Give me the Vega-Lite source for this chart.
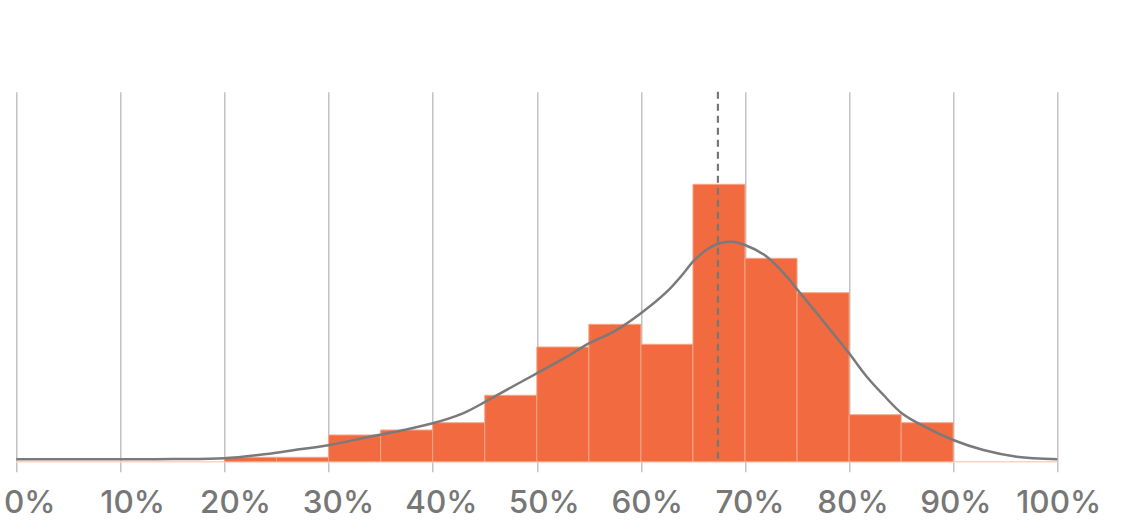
{
  "$schema": "https://vega.github.io/schema/vega-lite/v6.json",
  "autosize": {"type": "none"},
  "width": 1041,
  "height": 370,
  "padding": {"left": 16.3, "top": 91.7, "right": 84.7, "bottom": 65.3},
  "background": "white",
  "config": {"view": {"stroke": null}},
  "datasets": {
    "bins": [
      {"start": 20, "end": 25, "value": 4.4},
      {"start": 25, "end": 30, "value": 4.4},
      {"start": 30, "end": 35, "value": 26.7},
      {"start": 35, "end": 40, "value": 31.7},
      {"start": 40, "end": 45, "value": 39},
      {"start": 45, "end": 50, "value": 66.4},
      {"start": 50, "end": 55, "value": 114.7},
      {"start": 55, "end": 60, "value": 137.4},
      {"start": 60, "end": 65, "value": 117.4},
      {"start": 65, "end": 70, "value": 277.4},
      {"start": 70, "end": 75, "value": 203.4},
      {"start": 75, "end": 80, "value": 169},
      {"start": 80, "end": 85, "value": 47},
      {"start": 85, "end": 90, "value": 39}
    ],
    "curve": [
      {"x": 0, "y": 2.4},
      {"x": 10, "y": 2.4},
      {"x": 15, "y": 2.6},
      {"x": 20, "y": 3.4},
      {"x": 24.1, "y": 7.7},
      {"x": 27.2, "y": 12.4},
      {"x": 30, "y": 16.5},
      {"x": 33.7, "y": 24.5},
      {"x": 36.9, "y": 31},
      {"x": 40, "y": 38.4},
      {"x": 42.9, "y": 48.4},
      {"x": 44.9, "y": 59},
      {"x": 46.5, "y": 68.4},
      {"x": 50, "y": 88.4},
      {"x": 52.9, "y": 105},
      {"x": 55, "y": 118.4},
      {"x": 57.4, "y": 130},
      {"x": 60, "y": 148.4},
      {"x": 62.5, "y": 170},
      {"x": 64.1, "y": 188.4},
      {"x": 65, "y": 200},
      {"x": 66.3, "y": 212},
      {"x": 67.4, "y": 218},
      {"x": 68.7, "y": 220},
      {"x": 70, "y": 216.7},
      {"x": 72.1, "y": 205},
      {"x": 74.3, "y": 181.7},
      {"x": 75, "y": 172.5},
      {"x": 76.9, "y": 148.4},
      {"x": 80, "y": 108.4},
      {"x": 81.7, "y": 85},
      {"x": 83.3, "y": 66.7},
      {"x": 85, "y": 49},
      {"x": 86.8, "y": 37.5},
      {"x": 90, "y": 21.7},
      {"x": 92.9, "y": 11.7},
      {"x": 96.1, "y": 5},
      {"x": 100, "y": 2.4}
    ],
    "base": [{"start": 0, "end": 100}],
    "marker": [{"x": 67.4}]
  },
  "layer": [
    {
      "data": {"name": "base"},
      "mark": {"type": "rule", "color": "#fbd3c4", "strokeWidth": 1.5},
      "encoding": {
        "x": {
          "field": "start",
          "type": "quantitative",
          "scale": {"domain": [0, 100], "nice": false, "zero": false},
          "axis": {
            "values": [0, 10, 20, 30, 40, 50, 60, 70, 80, 90, 100],
            "labelExpr": "datum.value + '%'",
            "title": null,
            "domain": false,
            "grid": true,
            "gridColor": "#b4b4b4",
            "gridWidth": 1.2,
            "ticks": true,
            "tickSize": 10,
            "tickColor": "#b4b4b4",
            "tickWidth": 1.2,
            "labelFont": "Inter",
            "labelFontSize": 31.5,
            "labelFontWeight": 500,
            "labelColor": "#777777",
            "labelBaseline": "alphabetic",
            "labelPadding": 41,
            "labelFlush": false,
            "labelBound": false,
            "labelOverlap": false,
            "labelOffset": {"expr": "13 - datum.value * 0.12"}
          }
        },
        "x2": {"field": "end"},
        "y": {"datum": 0, "type": "quantitative", "scale": {"domain": [0, 370], "nice": false}, "axis": null}
      }
    },
    {
      "data": {"name": "bins"},
      "mark": {"type": "rect", "color": "#f26a40", "stroke": "#f8a487", "strokeWidth": 1},
      "encoding": {
        "x": {"field": "start", "type": "quantitative"},
        "x2": {"field": "end"},
        "y": {"field": "value", "type": "quantitative"},
        "y2": {"datum": 0}
      }
    },
    {
      "data": {"name": "curve"},
      "mark": {"type": "line", "color": "#7a7a7a", "strokeWidth": 2.5, "interpolate": "catmull-rom"},
      "encoding": {
        "x": {"field": "x", "type": "quantitative"},
        "y": {"field": "y", "type": "quantitative"}
      }
    },
    {
      "data": {"name": "marker"},
      "mark": {"type": "rule", "color": "#777777", "strokeWidth": 2.2, "strokeDash": [7, 5]},
      "encoding": {
        "x": {"field": "x", "type": "quantitative"}
      }
    }
  ]
}
